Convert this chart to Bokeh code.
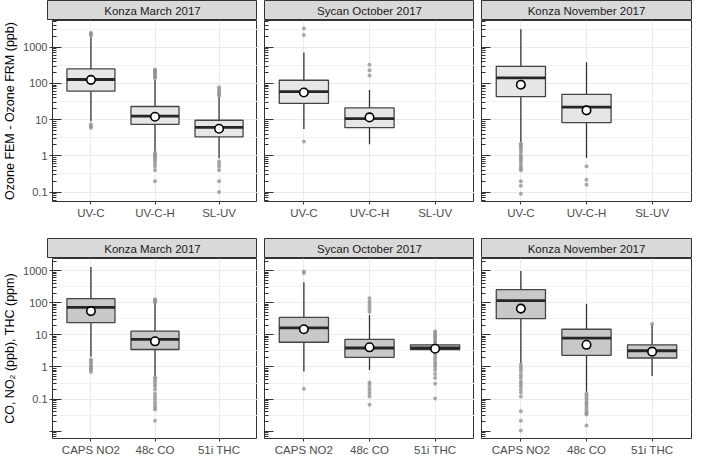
from bokeh.plotting import figure
from bokeh.layouts import column, row
from bokeh.models import Range1d, FixedTicker, Grid, ColumnDataSource, Label
from bokeh.embed import file_html
from bokeh.resources import INLINE

# ---------------- data ----------------
sites = ["Konza March 2017", "Sycan October 2017", "Konza November 2017"]
ozone_instruments = ["UV-C", "UV-C-H", "SL-UV"]
other_instruments = ["CAPS NO2", "48c CO", "51i THC"]

# Ozone FEM - Ozone FRM (ppb); per site, per instrument (None = no data)
ozone_low = [[9, 1.3, 0.86], [5.5, 2.1, None], [2.4, 0.87, None]]
ozone_q1 = [[61, 7.4, 3.35], [28, 6.0, None], [43, 8.3, None]]
ozone_median = [[128, 12.5, 6.1], [59, 10.6, None], [142, 22, None]]
ozone_q3 = [[250, 23, 9.6], [122, 21, None], [296, 50, None]]
ozone_high = [[1900, 125, 42], [710, 66, None], [3100, 380, None]]
ozone_mean = [[125, 12, 5.6], [56, 11.5, None], [92, 18, None]]
ozone_outliers = [
    [[2500, 2300, 2100, 7.5, 6.5, 6.0],
     [240, 225, 210, 195, 180, 165, 150, 140, 1.2, 1.1, 1.0, 0.9, 0.8, 0.7, 0.6, 0.5, 0.4, 0.2],
     [78, 70, 62, 55, 50, 46, 0.7, 0.6, 0.5, 0.4, 0.2, 0.1]],
    [[3250, 2150, 2.5],
     [327, 230, 166],
     []],
    [[2.2, 2.0, 1.8, 1.6, 1.4, 1.2, 1.0, 0.9, 0.8, 0.7, 0.6, 0.5, 0.45, 0.4, 0.2, 0.15, 0.09],
     [0.52, 0.22, 0.16],
     []],
]

# CO, NO2 (ppb), THC (ppm)
other_low = [[2.1, 0.52, None], [0.72, 0.8, 3.0], [1.3, 0.17, 0.52]]
other_q1 = [[24, 3.5, None], [5.9, 2.0, 3.5], [32, 2.3, 1.9]]
other_median = [[72, 7.2, None], [16.6, 3.9, 3.9], [117, 7.9, 3.2]]
other_q3 = [[135, 13, None], [35, 7.2, 4.9], [257, 15, 4.9]]
other_high = [[1300, 93, None], [437, 42, 5.5], [980, 93, 21]]
other_mean = [[55, 6.3, None], [15, 4.1, 3.7], [66, 4.9, 3.0]]
other_outliers = [
    [[1.7, 1.5, 1.3, 1.1, 1.0, 0.9, 0.8, 0.7],
     [130, 120, 110, 100, 0.48, 0.42, 0.36, 0.3, 0.25, 0.2, 0.15, 0.12, 0.1, 0.08, 0.065, 0.055, 0.047, 0.021],
     []],
    [[950, 850, 0.21],
     [138, 110, 90, 75, 62, 52, 0.33, 0.28, 0.22, 0.18, 0.15, 0.12, 0.066],
     [13, 11.5, 10, 9, 8, 7, 6.2, 5.6, 3.1, 2.5, 2.0, 1.7, 1.4, 1.2, 1.0, 0.8, 0.6, 0.45, 0.3, 0.105]],
    [[1.2, 1.0, 0.85, 0.7, 0.55, 0.45, 0.35, 0.3, 0.25, 0.2, 0.16, 0.12, 0.042, 0.021, 0.0105],
     [0.15, 0.13, 0.11, 0.095, 0.08, 0.07, 0.06, 0.05, 0.042, 0.036, 0.033, 0.015],
     [22]],
]

y_tick_values = [0.1, 1, 10, 100, 1000]
y_tick_labels = ["0.1", "1", "10", "100", "1000"]

# ---------------- styling ----------------
FONT = "Liberation Sans"
LEFT = 47
PANEL_W = 210
GAP = 7
STRIP_H = 20
PANEL_H = 181
BOX_W = 0.75
GRID_COL = "#EBEBEB"
MINOR_GRID_COL = "#F2F2F2"
DARK = "#333333"


def strip_fig(title, col):
    ml = LEFT if col == 0 else GAP
    mr = 1 if col == 2 else 0
    s = figure(width=ml + PANEL_W + mr, height=STRIP_H, x_range=Range1d(0, 1), y_range=Range1d(0, 1),
               toolbar_location=None, output_backend="svg",
               x_axis_location=None, y_axis_location=None,
               min_border_left=ml, min_border_right=mr, min_border_top=0, min_border_bottom=0)
    s.grid.visible = False
    s.background_fill_color = "#D9D9D9"
    s.border_fill_color = "white"
    s.outline_line_color = DARK
    s.outline_line_width = 1
    s.add_layout(Label(x=0.5, y=0.5, text=title, text_align="center", text_baseline="middle",
                       text_font=FONT, text_font_size="11.5px", text_color="#1A1A1A"))
    return s


def panel_fig(col, instruments, low, q1, med, q3, high, mean, outl, yr, bottom, ylabel, fill, extra_major):
    ml = LEFT if col == 0 else GAP
    mr = 1 if col == 2 else 0
    p = figure(width=ml + PANEL_W + mr, height=PANEL_H + bottom,
               x_range=Range1d(0.4, 3.6), y_range=Range1d(*yr), y_axis_type="log",
               toolbar_location=None, output_backend="svg",
               min_border_left=ml, min_border_right=mr, min_border_top=0, min_border_bottom=bottom)
    p.background_fill_color = "white"
    p.border_fill_color = "white"
    p.outline_line_color = DARK
    p.outline_line_width = 1

    # ---- axes ----
    decades = [10.0 ** k for k in range(-3, 5)]
    minor = [m * d for d in decades for m in range(2, 10)]
    major = list(y_tick_values) + list(extra_major)
    yt = FixedTicker(ticks=major, minor_ticks=minor)
    ya = p.yaxis[0]
    ya.ticker = yt
    ya.axis_line_color = None
    ya.major_tick_line_color = DARK
    ya.minor_tick_line_color = DARK
    ya.major_tick_in = 9
    ya.minor_tick_in = 4
    ya.minor_tick_out = 0
    ya.major_label_text_font = FONT
    ya.major_label_text_font_size = "11px"
    ya.major_label_text_color = "#4D4D4D"
    if col == 0:
        overrides = {v: l for v, l in zip(y_tick_values, y_tick_labels)}
        for v in extra_major:
            overrides[v] = ""
        ya.major_label_overrides = overrides
        ya.major_tick_out = 3
        ya.major_label_standoff = 2
        ya.axis_label = ylabel
        ya.axis_label_text_font = FONT
        ya.axis_label_text_font_size = "12.5px"
        ya.axis_label_text_font_style = "normal"
        ya.axis_label_text_color = "black"
        ya.axis_label_standoff = 3
    else:
        ya.major_label_overrides = {v: "" for v in major}
        ya.major_tick_out = 0
        ya.major_label_standoff = 0

    xa = p.xaxis[0]
    xa.ticker = FixedTicker(ticks=[1, 2, 3], minor_ticks=[])
    xa.major_label_overrides = {i + 1: n for i, n in enumerate(instruments)}
    xa.axis_line_color = None
    xa.major_tick_line_color = DARK
    xa.major_tick_in = 0
    xa.major_tick_out = 3
    xa.minor_tick_line_color = None
    xa.major_label_standoff = 2
    xa.major_label_text_font = FONT
    xa.major_label_text_font_size = "11.5px"
    xa.major_label_text_color = "#4D4D4D"

    # ---- grids ----
    p.xgrid.ticker = FixedTicker(ticks=[1, 2, 3])
    p.xgrid.grid_line_color = GRID_COL
    p.ygrid.ticker = FixedTicker(ticks=list(y_tick_values))
    p.ygrid.grid_line_color = GRID_COL
    half = [10.0 ** (k + 0.5) for k in range(-3, 4)]
    p.add_layout(Grid(dimension=1, ticker=FixedTicker(ticks=half), grid_line_color=MINOR_GRID_COL,
                      grid_line_width=1))

    # ---- boxes ----
    xs, lo, a, m, b, hi, mn = [], [], [], [], [], [], []
    ox, oy = [], []
    for i in range(len(instruments)):
        if q1[i] is None:
            continue
        x = i + 1
        xs.append(x)
        lo.append(low[i]); a.append(q1[i]); m.append(med[i]); b.append(q3[i]); hi.append(high[i])
        mn.append(mean[i])
        for v in outl[i]:
            ox.append(x); oy.append(v)
    src = ColumnDataSource(dict(x=xs, lo=lo, q1=a, med=m, q3=b, hi=hi, mean=mn,
                                xl=[x - BOX_W / 2 for x in xs], xr=[x + BOX_W / 2 for x in xs]))
    osrc = ColumnDataSource(dict(x=ox, y=oy))

    p.segment(x0="x", y0="lo", x1="x", y1="q1", source=src, line_color=DARK, line_width=1.3)
    p.segment(x0="x", y0="q3", x1="x", y1="hi", source=src, line_color=DARK, line_width=1.3)
    p.scatter(x="x", y="y", source=osrc, size=4, fill_color="#8F8F8F", line_color=None, fill_alpha=0.75)
    p.vbar(x="x", bottom="q1", top="q3", width=BOX_W, source=src, fill_color=fill,
           line_color="#444444", line_width=1.3)
    p.segment(x0="xl", y0="med", x1="xr", y1="med", source=src, line_color="#262626", line_width=2.8)
    p.scatter(x="x", y="mean", source=src, size=8.5, fill_color="white", line_color="black",
              line_width=1.6)
    return p


top_strips = [strip_fig(s, c) for c, s in enumerate(sites)]
top_panels = [panel_fig(c, ozone_instruments, ozone_low[c], ozone_q1[c], ozone_median[c], ozone_q3[c],
                        ozone_high[c], ozone_mean[c], ozone_outliers[c], (0.055, 5430), 37,
                        "Ozone FEM - Ozone FRM (ppb)", "#E6E6E6", [])
              for c in range(3)]
bot_strips = [strip_fig(s, c) for c, s in enumerate(sites)]
bot_panels = [panel_fig(c, other_instruments, other_low[c], other_q1[c], other_median[c], other_q3[c],
                        other_high[c], other_mean[c], other_outliers[c], (0.0059, 2400), 19,
                        "CO, NO\u2082 (ppb), THC (ppm)", "#C8C8C8", [0.01])
              for c in range(3)]

layout = column(row(*top_strips), row(*top_panels), row(*bot_strips), row(*bot_panels))

open("out.html", "w").write(file_html(layout, INLINE))
